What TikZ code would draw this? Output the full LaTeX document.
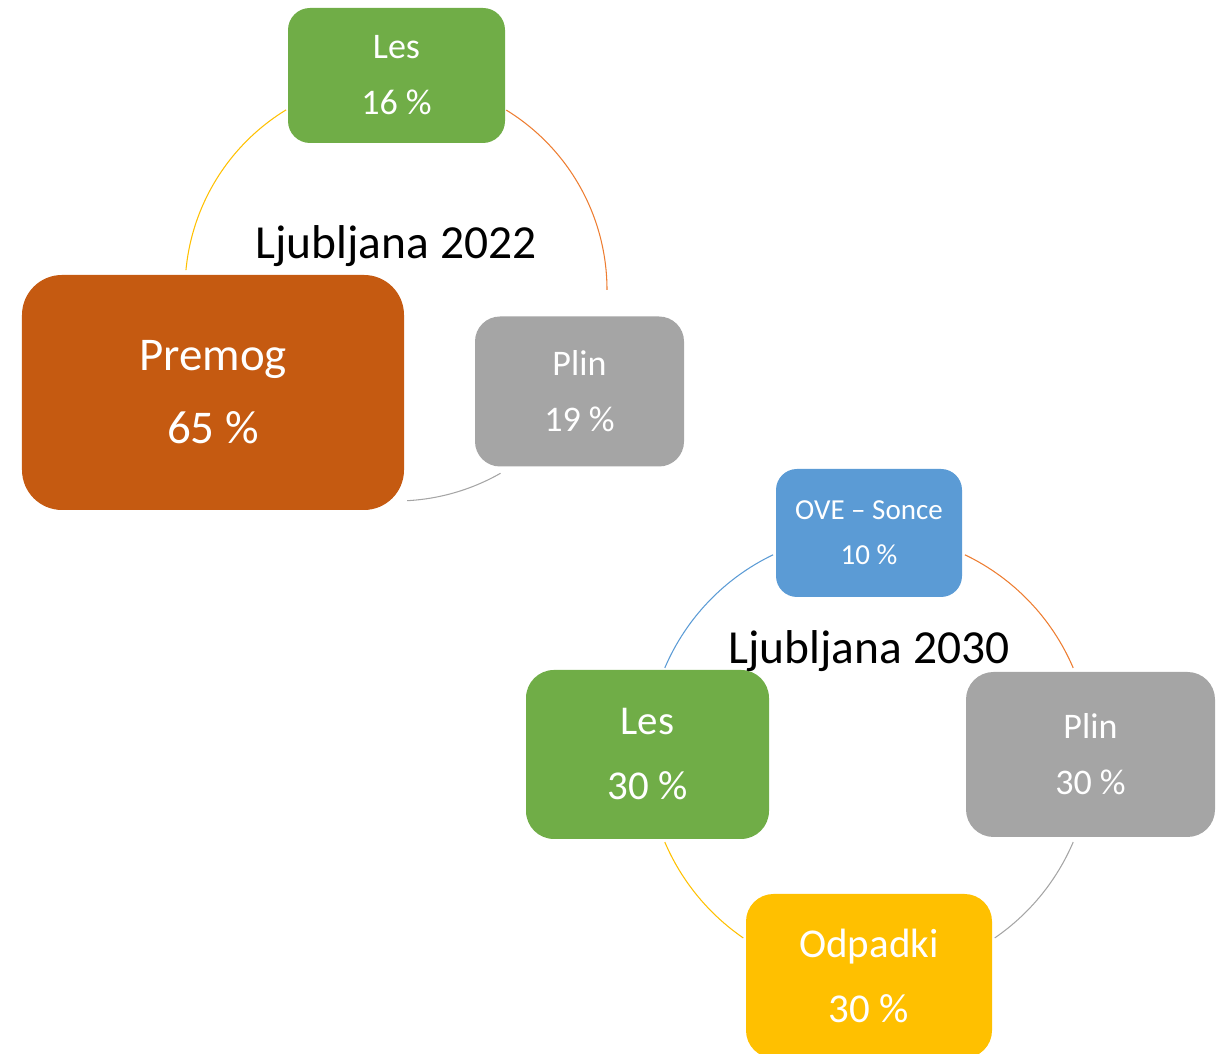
\documentclass[tikz,border=0pt]{standalone}
\usepackage{fontspec}
\setmainfont{Carlito}
\usepackage{tikz}
\definecolor{lesgreen}{HTML}{70AD47}
\definecolor{plingray}{HTML}{A5A5A5}
\definecolor{premogbrown}{HTML}{C55A11}
\definecolor{linorange}{HTML}{ED7D31}
\definecolor{odpyellow}{HTML}{FFC000}
\definecolor{oveblue}{HTML}{5B9BD5}

\begin{document}
\begin{tikzpicture}[
    box/.style={text=white,align=center,inner sep=0pt},
    cyc/.style={line width=0.6pt},
    small/.style={font=\fontsize{20.5}{31.9}\selectfont},
    mid/.style={font=\fontsize{23.3}{37}\selectfont},
    big/.style={font=\fontsize{26.7}{41.5}\selectfont},
    tiny/.style={font=\fontsize{16.5}{25.6}\selectfont},
    title/.style={font=\fontsize{27}{32}\selectfont}]
\useasboundingbox (0,0) rectangle (24.44,21.08);
\begin{scope}
    \coordinate (c1) at (7.92,15.28);
    \draw[cyc,linorange] (c1) ++(58.5:4.22) arc[start angle=58.5,end angle=0,radius=4.22];
    \draw[cyc,plingray] (c1) ++(-60.3:4.22) arc[start angle=-60.3,end angle=-87,radius=4.22];
    \draw[cyc,odpyellow] (c1) ++(174.6:4.22) arc[start angle=174.6,end angle=121.4,radius=4.22];
    \node[box,small,fill=lesgreen,rounded corners=0.44cm,minimum width=4.34cm,minimum height=2.70cm] (les1) at (7.93,19.57) {Les\\16 \%};
    \node[box,small,fill=plingray,rounded corners=0.5cm,minimum width=4.18cm,minimum height=3.00cm] (plin1) at (11.59,13.25) {Plin\\19 \%};
    \node[box,big,fill=premogbrown,rounded corners=0.8cm,minimum width=7.64cm,minimum height=4.70cm] (premog) at (4.26,13.23) {Premog\\65 \%};
    \node[title] (naslov1) at (7.92,16.16) {Ljubljana 2022};
\end{scope}
\begin{scope}
    \coordinate (c2) at (17.38,5.98);
    \draw[cyc,linorange] (c2) ++(64.4:4.44) arc[start angle=64.4,end angle=23.1,radius=4.44];
    \draw[cyc,plingray] (c2) ++(-23.1:4.44) arc[start angle=-23.1,end angle=-55.5,radius=4.44];
    \draw[cyc,odpyellow] (c2) ++(235.5:4.44) arc[start angle=235.5,end angle=203.1,radius=4.44];
    \draw[cyc,oveblue] (c2) ++(156.9:4.44) arc[start angle=156.9,end angle=115.6,radius=4.44];
    \node[box,tiny,fill=oveblue,rounded corners=0.42cm,minimum width=3.72cm,minimum height=2.56cm] (ove) at (17.38,10.42) {OVE -- Sonce\\10 \%};
    \node[box,small,fill=plingray,rounded corners=0.55cm,minimum width=4.98cm,minimum height=3.30cm] (plin2) at (21.81,5.99) {Plin\\30 \%};
    \node[box,mid,fill=odpyellow,rounded corners=0.55cm,minimum width=4.92cm,minimum height=3.28cm] (odpadki) at (17.38,1.56) {Odpadki\\30 \%};
    \node[box,mid,fill=lesgreen,rounded corners=0.56cm,minimum width=4.86cm,minimum height=3.38cm] (les2) at (12.95,5.99) {Les\\30 \%};
    \node[title] (naslov2) at (17.38,8.06) {Ljubljana 2030};
\end{scope}
\end{tikzpicture}
\end{document}
